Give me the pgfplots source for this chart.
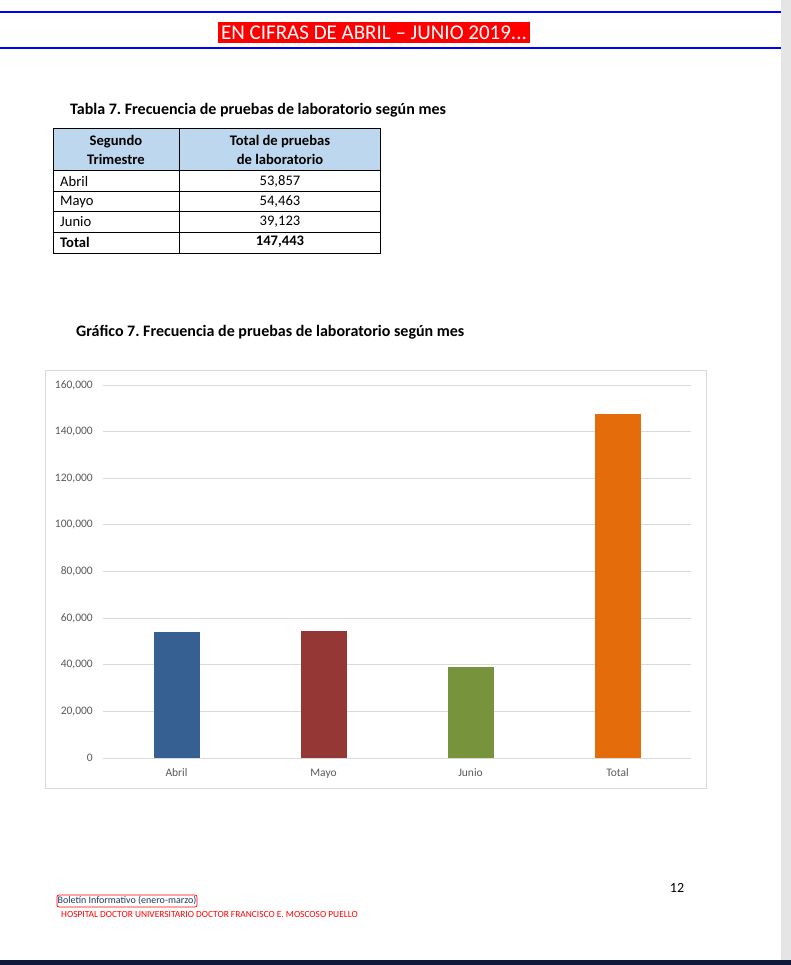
\documentclass[border=0pt]{standalone}
\usepackage{pgfplots}
\pgfplotsset{compat=1.18}
\usepackage{fontspec}
\setmainfont{Carlito}
\frenchspacing

\definecolor{abril}{HTML}{376092}
\definecolor{mayo}{HTML}{953735}
\definecolor{junio}{HTML}{77933C}
\definecolor{total}{HTML}{E46C0A}
\definecolor{gridc}{HTML}{D9D9D9}
\definecolor{ticktxt}{HTML}{595959}
\definecolor{headfill}{HTML}{BDD7EE}
\definecolor{navy}{HTML}{1F3864}
\definecolor{darkbar}{HTML}{0F1838}

\begin{document}
\begin{tikzpicture}[x=1pt,y=1pt]
% page
\path[use as bounding box] (0,0) rectangle (791,965);
\fill[white] (0,0) rectangle (791,965);
\fill[black!10] (781,0) rectangle (791,965);
\fill[darkbar] (0,0) rectangle (791,5);

% header
\draw[blue, line width=2.6pt] (0,953) -- (781,953);
\draw[blue, line width=2.6pt] (0,917) -- (781,917);
\fill[red] (218,922) rectangle (530,943);
\node[white, font=\fontsize{21}{23}\selectfont, inner sep=0pt] at (374,932.5) {EN CIFRAS DE ABRIL – JUNIO 2019...};

% table
\node[anchor=west, inner sep=0pt, font=\fontsize{16}{18}\selectfont\bfseries] at (70,855) {Tabla 7. Frecuencia de pruebas de laboratorio según mes};
\fill[headfill] (53,795) rectangle (380,837);
\draw[line width=0.8pt] (53,712) rectangle (380,837);
\foreach \yy in {795,774,754,733} \draw[line width=0.8pt] (53,\yy) -- (380,\yy);
\draw[line width=0.8pt] (179,712) -- (179,837);
\begin{scope}[every node/.style={inner sep=0pt, font=\fontsize{14.6}{16}\selectfont}]
\node[font=\fontsize{14.6}{16}\selectfont\bfseries] at (116,823) {Segundo};
\node[font=\fontsize{14.6}{16}\selectfont\bfseries] at (116,806) {Trimestre};
\node[font=\fontsize{14.6}{16}\selectfont\bfseries] at (280,823) {Total de pruebas};
\node[font=\fontsize{14.6}{16}\selectfont\bfseries] at (280,806) {de laboratorio};
\node[anchor=west] at (60,784) {Abril};
\node[anchor=west] at (60,763) {Mayo};
\node[anchor=west] at (60,743) {Junio};
\node[anchor=west, font=\fontsize{14.6}{16}\selectfont\bfseries] at (60,723) {Total};
\node at (280,784) {53,857};
\node at (280,763) {54,463};
\node at (280,743) {39,123};
\node[font=\fontsize{14.6}{16}\selectfont\bfseries] at (280,723) {147,443};
\end{scope}

% chart title and frame
\node[anchor=west, inner sep=0pt, font=\fontsize{16}{18}\selectfont\bfseries] at (76,633) {Gráfico 7. Frecuencia de pruebas de laboratorio según mes};
\draw[gridc, line width=0.9pt] (45,177) rectangle (706,595);

\begin{axis}[
  at={(103pt,207pt)}, anchor=south west,
  scale only axis, width=588pt, height=373pt,
  ybar, bar width=46pt, bar shift=0pt,
  xmin=-0.5, xmax=3.5, ymin=0, ymax=160000,
  xtick={0,1,2,3}, xticklabels={Abril,Mayo,Junio,Total},
  ytick={0,20000,...,160000},
  scaled y ticks=false,
  /pgf/number format/fixed,
  /pgf/number format/1000 sep={,},
  /pgf/number format/assume math mode=true,
  major tick length=0pt,
  axis line style={draw=none},
  ymajorgrids, grid style={gridc, line width=0.9pt},
  tick label style={ticktxt, font=\fontsize{11.5}{13}\selectfont, inner sep=0pt},
  yticklabel style={anchor=east, xshift=-10pt},
  xticklabel style={anchor=base, yshift=-19pt},
]
\addplot[fill=abril, draw=none] coordinates {(0,53857)};
\addplot[fill=mayo, draw=none] coordinates {(1,54463)};
\addplot[fill=junio, draw=none] coordinates {(2,39123)};
\addplot[fill=total, draw=none] coordinates {(3,147443)};
\end{axis}

% footer
\node[inner sep=0pt, font=\fontsize{14}{16}\selectfont] at (677,77) {12};
\draw[red, rounded corners=2pt, line width=0.7pt] (57,58) rectangle (197,70);
\node[navy, inner sep=0pt, font=\fontsize{10}{11}\selectfont] at (127,64) {Boletín Informativo (enero-marzo)};
\node[red, anchor=west, inner sep=0pt, font=\fontsize{9.4}{10}\selectfont] at (61,51) {HOSPITAL DOCTOR UNIVERSITARIO DOCTOR FRANCISCO E. MOSCOSO PUELLO};
\end{tikzpicture}
\end{document}
